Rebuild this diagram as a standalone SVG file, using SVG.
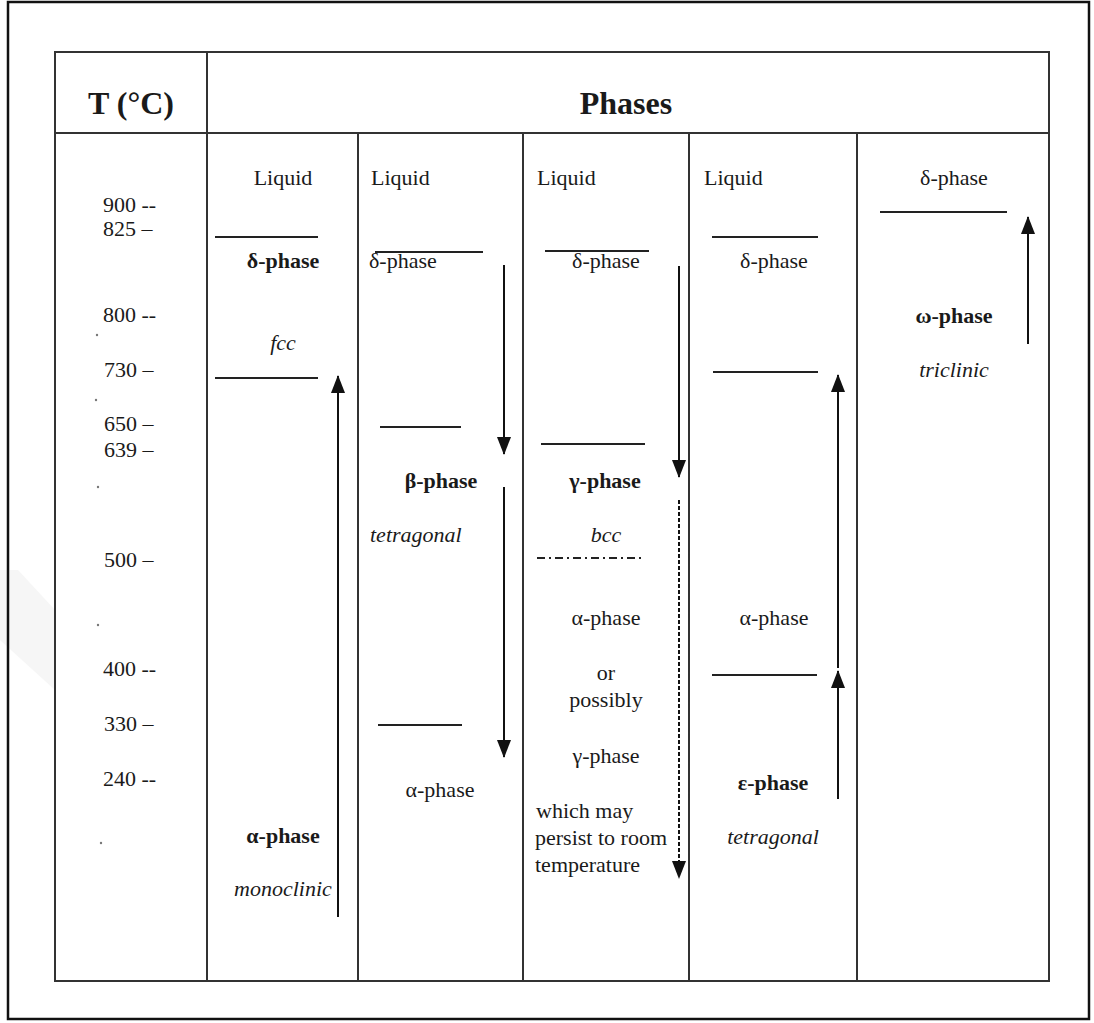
<svg xmlns="http://www.w3.org/2000/svg" width="1094" height="1023" viewBox="0 0 1094 1023">
<style>
text{font-family:"Liberation Serif","Times New Roman",serif;fill:#1a1a1a;font-size:22px}
.b{font-weight:bold}
.i{font-style:italic}
.m{text-anchor:middle}
.h{font-size:32px;font-weight:bold}
.grid{stroke:#333;stroke-width:2;fill:none}
.bar{stroke:#222;stroke-width:2}
.arr{stroke:#111;stroke-width:2;fill:none}
</style>
<defs>
<marker id="ah" markerUnits="userSpaceOnUse" markerWidth="18" markerHeight="14" viewBox="0 0 18 14" refX="17" refY="7" orient="auto">
<path d="M0,0 L18,7 L0,14 Z" fill="#111"/>
</marker>
</defs>
<rect width="1094" height="1023" fill="#fff"/>
<polygon points="0,570 18,570 55,610 55,690 0,640" fill="#f6f6f6"/>
<rect x="8" y="2" width="1081" height="1017" fill="none" stroke="#111" stroke-width="2.5"/>
<g id="table">
<rect class="grid" x="55" y="52" width="994" height="929"/>
<line class="grid" x1="55" y1="133" x2="1049" y2="133"/>
<line class="grid" x1="207" y1="52" x2="207" y2="981"/>
<line class="grid" x1="358" y1="133" x2="358" y2="981"/>
<line class="grid" x1="523" y1="133" x2="523" y2="981"/>
<line class="grid" x1="689" y1="133" x2="689" y2="981"/>
<line class="grid" x1="857" y1="133" x2="857" y2="981"/>
<text class="h m" x="131" y="114">T (°C)</text>
<text class="h m" x="626" y="114">Phases</text>
</g>
<g id="temps">
<text x="103" y="212">900 --</text>
<text x="103" y="236">825 –</text>
<text x="103" y="322">800 --</text>
<text x="104" y="377">730 –</text>
<text x="104" y="431">650 –</text>
<text x="104" y="457">639 –</text>
<text x="104" y="567">500 –</text>
<text x="103" y="676">400 --</text>
<text x="104" y="731">330 –</text>
<text x="103" y="786">240 --</text>
<g fill="#777">
<circle cx="97" cy="335" r="1.2"/>
<circle cx="96" cy="400" r="1.2"/>
<circle cx="98" cy="487" r="1.2"/>
<circle cx="98" cy="625" r="1.2"/>
<circle cx="101" cy="843" r="1.2"/>
</g>
</g>
<g id="col1">
<text class="m" x="283" y="185">Liquid</text>
<line class="bar" x1="215" y1="237" x2="318" y2="237"/>
<text class="b m" x="283" y="268">δ-phase</text>
<text class="i m" x="283" y="350">fcc</text>
<line class="bar" x1="215" y1="378" x2="318" y2="378"/>
<text class="b m" x="283" y="843">α-phase</text>
<text class="i m" x="283" y="896">monoclinic</text>
</g>
<g id="col2">
<text x="371" y="185">Liquid</text>
<line class="bar" x1="375" y1="252" x2="483" y2="252"/>
<text x="369" y="268">δ-phase</text>
<line class="bar" x1="380" y1="427" x2="461" y2="427"/>
<text class="b m" x="441" y="488">β-phase</text>
<text class="i" x="370" y="542">tetragonal</text>
<line class="bar" x1="378" y1="725" x2="462" y2="725"/>
<text class="m" x="440" y="797">α-phase</text>
</g>
<g id="col3">
<text x="537" y="185">Liquid</text>
<line class="bar" x1="545" y1="251" x2="649" y2="251"/>
<text class="m" x="606" y="268">δ-phase</text>
<line class="bar" x1="541" y1="444" x2="645" y2="444"/>
<text class="b m" x="605" y="488">γ-phase</text>
<text class="i m" x="606" y="542">bcc</text>
<line stroke="#222" stroke-width="2" stroke-dasharray="8,4,2,4" x1="537" y1="558" x2="641" y2="558"/>
<text class="m" x="606" y="625">α-phase</text>
<text class="m" x="606" y="680">or</text>
<text class="m" x="606" y="707">possibly</text>
<text class="m" x="606" y="763">γ-phase</text>
<text x="536" y="818">which may</text>
<text x="535" y="845">persist to room</text>
<text x="535" y="872">temperature</text>
</g>
<g id="col4">
<text x="704" y="185">Liquid</text>
<line class="bar" x1="712" y1="237" x2="818" y2="237"/>
<text class="m" x="774" y="268">δ-phase</text>
<line class="bar" x1="713" y1="372" x2="818" y2="372"/>
<text class="m" x="774" y="625">α-phase</text>
<line class="bar" x1="712" y1="675" x2="817" y2="675"/>
<text class="b m" x="773" y="790">ε-phase</text>
<text class="i m" x="773" y="844">tetragonal</text>
</g>
<g id="col5">
<text class="m" x="954" y="185">δ-phase</text>
<line class="bar" x1="880" y1="212" x2="1007" y2="212"/>
<text class="b m" x="954" y="323">ω-phase</text>
<text class="i m" x="954" y="377">triclinic</text>
</g>
<g id="connectors">
<line class="arr" x1="338" y1="917" x2="338" y2="376" marker-end="url(#ah)"/>
<line class="arr" x1="504" y1="265" x2="504" y2="454" marker-end="url(#ah)"/>
<line class="arr" x1="504" y1="487" x2="504" y2="757" marker-end="url(#ah)"/>
<line class="arr" x1="679" y1="266" x2="679" y2="477" marker-end="url(#ah)"/>
<line class="arr" x1="679" y1="500" x2="679" y2="878" stroke-dasharray="4,2" marker-end="url(#ah)"/>
<line class="arr" x1="838" y1="668" x2="838" y2="375" marker-end="url(#ah)"/>
<line class="arr" x1="838" y1="799" x2="838" y2="671" marker-end="url(#ah)"/>
<line class="arr" x1="1028" y1="344" x2="1028" y2="217" marker-end="url(#ah)"/>
</g>
</svg>
